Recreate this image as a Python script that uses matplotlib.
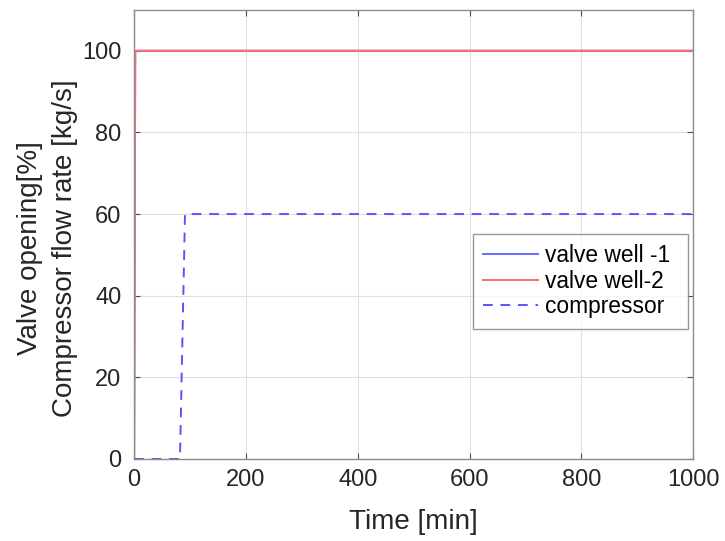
import numpy as np
import matplotlib.pyplot as plt

# time [min] and signals
t_valve = [0, 2, 1000]
valve_well_1 = [0, 100, 100]
valve_well_2 = [0, 100, 100]
t_comp = [0, 82, 91, 1000]
compressor = [0, 0, 60, 60]

plt.rcParams['font.family'] = ['Liberation Sans', 'DejaVu Sans']

fig = plt.figure(figsize=(7.25, 5.41), dpi=100)
ax = fig.add_axes([0.185, 0.1516, 0.771, 0.83])

ax.plot(t_valve, valve_well_1, color='#6b6bff', lw=1.4, label='valve well -1')
ax.plot(t_valve, valve_well_2, color='#ff6b6b', lw=1.4, label='valve well-2')
ax.plot(t_comp, compressor, color='#5555ff', lw=1.4, ls=(0, (5, 4)), label='compressor')

ax.set_xlim(0, 1000)
ax.set_ylim(0, 110)
ax.set_xticks(np.arange(0, 1001, 200))
ax.set_yticks(np.arange(0, 101, 20))
ax.grid(True, color='#e0e0e0', lw=0.8)
ax.set_axisbelow(True)
for s in ax.spines.values():
    s.set_color('#8c8c8c')
    s.set_linewidth(1.0)
ax.tick_params(direction='in', top=True, right=True, color='#4d4d4d',
               labelsize=17, labelcolor='#262626', length=4)
ax.tick_params(axis='y', pad=9)
ax.tick_params(axis='x', pad=7)

ax.set_xlabel('Time [min]', fontsize=20, color='#262626', labelpad=13)
ax.set_ylabel('Valve opening[%]\nCompressor flow rate [kg/s]', fontsize=20,
              color='#262626', linespacing=1.45)
ax.yaxis.set_label_coords(-0.1, 0.47)

leg = ax.legend(loc='center left', bbox_to_anchor=(0.606, 0.396, 0.385, 0),
                mode='expand', fontsize=16.4, frameon=True, fancybox=False,
                handlelength=2.4, borderpad=0.45, labelspacing=0.12,
                handletextpad=0.3, borderaxespad=0)
leg.get_frame().set_edgecolor('#7f7f7f')
leg.get_frame().set_linewidth(1.0)

fig.savefig('out.png', dpi=100)
